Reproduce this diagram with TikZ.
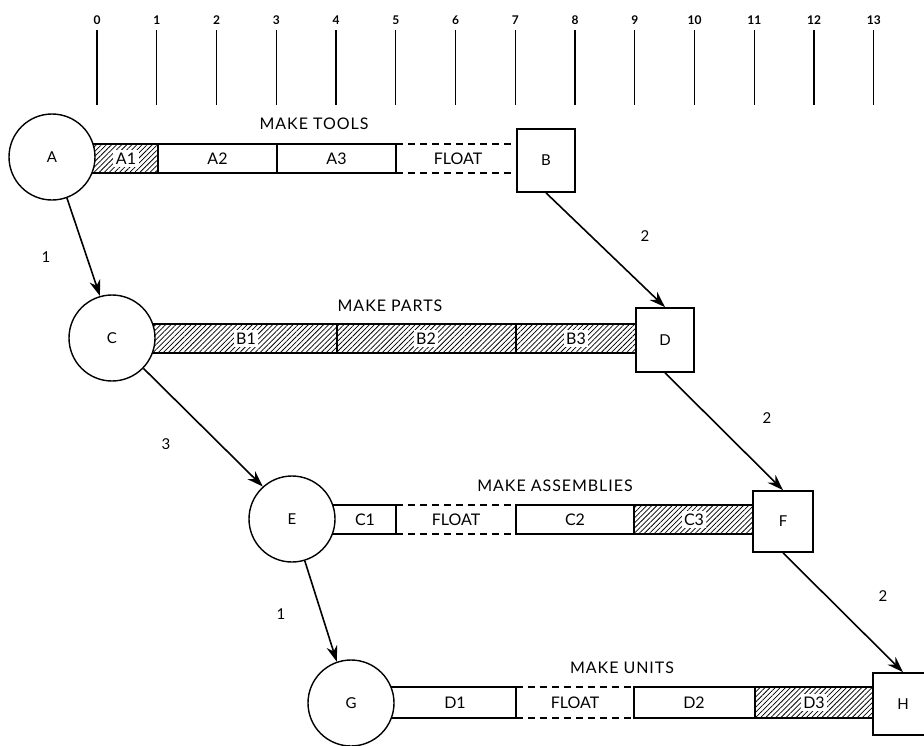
\documentclass[tikz,border=0pt]{standalone}
\usepackage{fontspec}
\setmainfont{Lato}
\usetikzlibrary{patterns.meta,arrows.meta}
\tikzset{
  barseg/.style={draw, line width=1.7pt},
  hatchseg/.style={barseg, pattern={Lines[angle=45,distance=3.6pt,line width=0.75pt]}},
  floatline/.style={line width=1.7pt, dash pattern=on 7pt off 5pt},
  evt/.style={circle, draw, line width=1.4pt, fill=white, minimum size=86pt, inner sep=0pt, font=\fontsize{15}{15}\selectfont},
  mile/.style={rectangle, draw, line width=1.7pt, fill=white, minimum width=59pt, minimum height=63pt, inner sep=0pt, font=\fontsize{15}{15}\selectfont},
  seglbl/.style={font=\fontsize{16}{16}\selectfont, inner sep=1.5pt},
  hlbl/.style={seglbl, fill=white, inner xsep=2.5pt, inner ysep=2.5pt},
  rowtitle/.style={font=\fontsize{16}{16}\selectfont\addfontfeature{LetterSpace=6}},
  tickline/.style={line width=1.4pt},
  ticklbl/.style={font=\fontsize{12}{12}\selectfont\bfseries},
  link/.style={line width=1.6pt, -{Stealth[length=16pt,width=11pt]}},
  num/.style={font=\fontsize{15}{15}\selectfont},
}
\begin{document}
\begin{tikzpicture}[x=1pt,y=-1pt]
\useasboundingbox (0,0) rectangle (924,745);

% time scale
\foreach \i in {0,...,13} {
  \pgfmathsetmacro\xx{97+59.75*\i}
  \draw[tickline] (\xx,30) -- (\xx,105);
  \node[ticklbl] (t\i) at (\xx,20) {\i};
}

% ---------- Row 1: MAKE TOOLS ----------
\draw[hatchseg] (92,144) rectangle (158,173);
\draw[barseg] (158,144) rectangle (277,173);
\draw[barseg] (277,144) rectangle (396,173);
\draw[floatline] (396,144) -- (517,144);
\draw[floatline] (396,173) -- (517,173);
\node[hlbl] (a1) at (126,158.5) {A1};
\node[seglbl] (a2) at (217.5,158.5) {A2};
\node[seglbl] (a3) at (336.5,158.5) {A3};
\node[seglbl] (fl1) at (458,158.5) {FLOAT};
\node[rowtitle] (r1) at (314,124) {MAKE TOOLS};
\node[evt] (A) at (52,157) {A};
\node[mile, minimum width=58pt] (B) at (546,160.5) {B};

% ---------- Row 2: MAKE PARTS ----------
\draw[hatchseg] (152,324) rectangle (337,353);
\draw[hatchseg] (337,324) rectangle (516,353);
\draw[hatchseg] (516,324) rectangle (636,353);
\node[hlbl] (b1) at (246,338.5) {B1};
\node[hlbl] (b2) at (426,338.5) {B2};
\node[hlbl] (b3) at (576,338.5) {B3};
\node[rowtitle] (r2) at (390,306) {MAKE PARTS};
\node[evt] (C) at (112,338) {C};
\node[mile, minimum width=58pt, minimum height=64pt] (D) at (665,340) {D};

% ---------- Row 3: MAKE ASSEMBLIES ----------
\draw[barseg] (332,505) rectangle (396,534);
\draw[floatline] (396,505) -- (516,505);
\draw[floatline] (396,534) -- (516,534);
\draw[barseg] (516,505) rectangle (634,534);
\draw[hatchseg] (634,505) rectangle (753,534);
\node[seglbl] (c1) at (365,519.5) {C1};
\node[seglbl] (fl3) at (456,519.5) {FLOAT};
\node[seglbl] (c2) at (575,519.5) {C2};
\node[hlbl] (c3) at (694,519.5) {C3};
\node[rowtitle] (r3) at (555,486) {MAKE ASSEMBLIES};
\node[evt] (E) at (292,519) {E};
\node[mile, minimum width=60pt, minimum height=61pt] (F) at (783,521.5) {F};

% ---------- Row 4: MAKE UNITS ----------
\draw[barseg] (391,687) rectangle (516,718);
\draw[floatline] (516,687) -- (634,687);
\draw[floatline] (516,718) -- (634,718);
\draw[barseg] (634,687) rectangle (755,718);
\draw[hatchseg] (755,687) rectangle (873,718);
\node[seglbl] (d1) at (455,702.5) {D1};
\node[seglbl] (fl4) at (575,702.5) {FLOAT};
\node[seglbl] (d2) at (694,702.5) {D2};
\node[hlbl] (d3) at (814,702.5) {D3};
\node[rowtitle] (r4) at (622,668) {MAKE UNITS};
\node[evt] (G) at (351,703) {G};
\node[mile, minimum width=60pt, minimum height=62pt] (H) at (903,704) {H};

% ---------- connectors ----------
\draw[link] (A.-70) -- (C.106);
\draw[link] (C.-44) -- (E.132);
\draw[link] (E.-73) -- (G.109);
\draw[link] (B.south) -- (D.north);
\draw[link] (D.south) -- (F.north);
\draw[link] (F.south) -- (H.north);

% connector labels
\node[num] (n1) at (46,257) {1};
\node[num] (n2) at (645,236) {2};
\node[num] (n3) at (166,444) {3};
\node[num] (n4) at (767,418) {2};
\node[num] (n5) at (281,614) {1};
\node[num] (n6) at (883,596) {2};
\end{tikzpicture}
\end{document}
